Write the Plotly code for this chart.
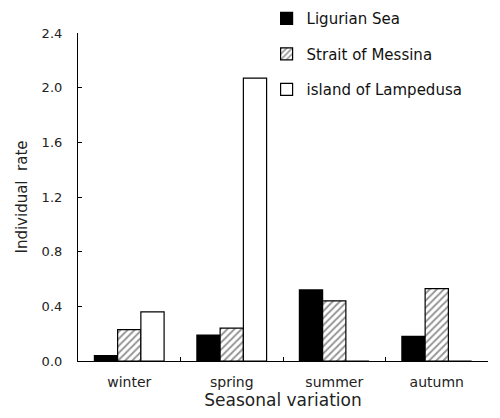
import plotly.graph_objects as go

seasons = ["winter", "spring", "summer", "autumn"]
ligurian = [0.04, 0.19, 0.52, 0.18]
messina = [0.23, 0.24, 0.44, 0.53]
lampedusa = [0.36, 2.07, 0, 0]
y_ticks = [0.0, 0.4, 0.8, 1.2, 1.6, 2.0, 2.4]

FONT = "DejaVu Sans"

fig = go.Figure()
fig.add_trace(go.Bar(
    x=seasons, y=ligurian, name="Ligurian Sea", legendgroup="a",
    marker=dict(color="black", line=dict(color="black", width=1.2)),
))
fig.add_trace(go.Bar(
    x=seasons, y=messina, name="Strait of Messina", legendgroup="b",
    marker=dict(color="white", line=dict(color="black", width=1.2),
                pattern=dict(shape="/", fgcolor="#2a2a2a", bgcolor="white",
                             size=5, solidity=0.38)),
))
fig.add_trace(go.Bar(
    x=seasons, y=lampedusa, name="island of Lampedusa", legendgroup="c",
    marker=dict(color="white", line=dict(color="black", width=1.2)),
))

fig.update_layout(
    width=500, height=418,
    margin=dict(l=78, r=12, t=33, b=57, autoexpand=False),
    paper_bgcolor="white", plot_bgcolor="white",
    barmode="group", bargap=0.32, bargroupgap=0,
    font=dict(family=FONT, color="#222222", size=12),
    showlegend=True,
    legend=dict(x=0.46, y=0.995, xanchor="left", yanchor="top", yref="container",
                font=dict(family=FONT, size=15, color="#111111"),
                tracegroupgap=13, itemwidth=30, bgcolor="rgba(0,0,0,0)"),
    xaxis=dict(
        showline=True, linecolor="black", linewidth=1.2,
        ticks="inside", tickson="boundaries", ticklen=4, tickcolor="black",
        showgrid=False, tickfont=dict(size=14), ticklabelstandoff=8,
        title=dict(text="Seasonal variation", font=dict(size=17), standoff=2),
    ),
    yaxis=dict(
        range=[0, 2.4], tickvals=y_ticks, tickformat=".1f",
        showline=True, linecolor="black", linewidth=1.2,
        ticks="inside", ticklen=4, tickcolor="black",
        showgrid=False, zeroline=False, tickfont=dict(size=13),
        ticklabelstandoff=12,
        title=dict(text="Individual  rate", font=dict(size=15), standoff=10),
    ),
)

fig.write_html("out.html")
